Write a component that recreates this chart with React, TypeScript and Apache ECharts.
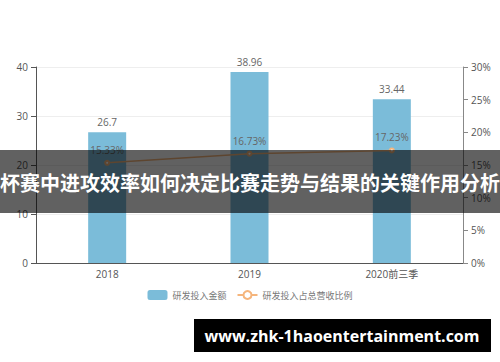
import React, { useEffect, useRef } from "react";
import * as echarts from "echarts";

const categories = ["2018", "2019", "2020前三季"];
const investment = [26.7, 38.96, 33.44];
const ratio = [15.33, 16.73, 17.23];
const seriesNames = ["研发投入金额", "研发投入占总营收比例"];
const overlayTitle = "杯赛中进攻效率如何决定比赛走势与结果的关键作用分析";
const siteUrl = "www.zhk-1haoentertainment.com";

export default function App() {
  const ref = useRef<HTMLDivElement>(null);
  useEffect(() => {
    document.body.style.margin = "0";
    const chart = echarts.init(ref.current!, null, { renderer: "svg" });
    const font = "'Open Sans', 'Noto Sans CJK SC', sans-serif";
    chart.setOption({
      animation: false,
      backgroundColor: "#fff",
      textStyle: { fontFamily: font },
      grid: { left: 36, right: 37, top: 67, bottom: 99 },
      legend: {
        bottom: 57,
        left: "center",
        itemWidth: 20,
        itemHeight: 10,
        itemGap: 10,
        textStyle: { color: "#777", fontSize: 9 },
        data: [{ name: seriesNames[0] }, { name: seriesNames[1] }],
      },
      xAxis: {
        type: "category",
        data: categories,
        axisLine: { lineStyle: { color: "#555" } },
        axisTick: { alignWithLabel: false, lineStyle: { color: "#555" } },
        axisLabel: { color: "#555", fontSize: 10, margin: 6 },
      },
      yAxis: [
        {
          type: "value",
          min: 0,
          max: 40,
          interval: 10,
          axisLine: { show: true, lineStyle: { color: "#555" } },
          axisTick: { show: true, lineStyle: { color: "#555" } },
          axisLabel: { color: "#555", fontSize: 10 },
          splitLine: { lineStyle: { color: "#eee" } },
        },
        {
          type: "value",
          min: 0,
          max: 30,
          interval: 5,
          axisLine: { show: true, lineStyle: { color: "#888" } },
          axisTick: { show: true, lineStyle: { color: "#888" } },
          axisLabel: { color: "#555", fontSize: 10, formatter: "{value}%" },
          splitLine: { show: false },
        },
      ],
      series: [
        {
          name: seriesNames[0],
          type: "bar",
          data: investment,
          barWidth: 38,
          itemStyle: { color: "#7bbcd9" },
          label: { show: true, position: "top", color: "#666", fontSize: 10 },
        },
        {
          name: seriesNames[1],
          type: "line",
          yAxisIndex: 1,
          data: ratio,
          symbol: "emptyCircle",
          symbolSize: 4,
          lineStyle: { color: "#f5b57c", width: 1.5 },
          itemStyle: { color: "#f5b57c" },
          label: {
            show: true,
            position: "top",
            color: "#666",
            fontSize: 10,
            formatter: (p: any) => p.value.toFixed(2) + "%",
          },
          z: 3,
        },
      ],
      graphic: [
        {
          type: "rect",
          shape: { x: 0, y: 150, width: 500, height: 63 },
          style: { fill: "rgba(0,0,0,0.62)" },
          z: 100,
        },
        {
          type: "text",
          x: 250,
          y: 182,
          style: {
            text: overlayTitle,
            fill: "#fff",
            font: "bold 20px 'Noto Sans CJK SC', sans-serif",
            textAlign: "center",
            textVerticalAlign: "middle",
          },
          z: 101,
        },
        {
          type: "rect",
          shape: { x: 194, y: 319, width: 297, height: 33 },
          style: { fill: "#000" },
          z: 100,
        },
        {
          type: "text",
          x: 342,
          y: 336,
          style: {
            text: siteUrl,
            fill: "#fff",
            font: "bold 16px 'Open Sans', sans-serif",
            textAlign: "center",
            textVerticalAlign: "middle",
          },
          z: 101,
        },
      ],
    });
    return () => chart.dispose();
  }, []);
  return (
    <div
      ref={ref}
      style={{ position: "absolute", left: 0, top: 0, width: 500, height: 362 }}
    />
  );
}
